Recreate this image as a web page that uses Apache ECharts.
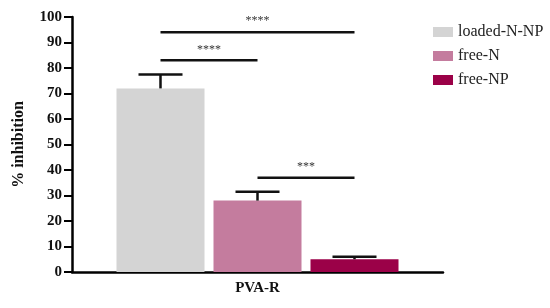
<!DOCTYPE html>
<html>
<head>
<meta charset="utf-8">
<script src="https://cdn.jsdelivr.net/npm/echarts@6/dist/echarts.min.js"></script>
<style>
  html, body { margin: 0; padding: 0; background: #fff; }
  #chart { width: 550px; height: 308px; }
</style>
</head>
<body>
<div id="chart"></div>
<script>
  // data
  var categories = ['PVA-R'];
  var groups = ['loaded-N-NP', 'free-N', 'free-NP'];
  var means = [72, 28, 5];
  var errors = [5.5, 3.5, 1];
  var colors = ['#d4d4d4', '#c47c9e', '#9b0148'];
  // significance brackets: [from group, to group, height, label]
  var brackets = [
    [0, 2, 94, '****'],
    [0, 1, 83, '****'],
    [1, 2, 37, '***']
  ];
  var yTicks = { min: 0, max: 100, interval: 10 };

  var BAR_W = 88;
  var BAR_GAP = 9;
  var FONT = 'Liberation Serif';

  function groupOffset(g) {
    return (g - 1) * (BAR_W + BAR_GAP);
  }

  var barSeries = groups.map(function (name, i) {
    return {
      name: name,
      type: 'bar',
      barWidth: BAR_W,
      barGap: (BAR_GAP / BAR_W * 100) + '%',
      itemStyle: { color: colors[i] },
      data: [means[i]],
      z: 2
    };
  });

  var errData = means.map(function (m, i) { return [0, m, m + errors[i], i]; });

  var errSeries = {
    type: 'custom',
    name: 'err',
    data: errData,
    encode: { x: 0, y: 1 },
    z: 3,
    renderItem: function (params, api) {
      var g = api.value(3);
      var base = api.coord([0, api.value(1)]);
      var top = api.coord([0, api.value(2)]);
      var x = base[0] + groupOffset(g);
      var style = { stroke: '#111', lineWidth: 2.5 };
      return {
        type: 'group',
        children: [
          { type: 'line', shape: { x1: x, y1: base[1], x2: x, y2: top[1] }, style: style },
          { type: 'line', shape: { x1: x - 22, y1: top[1], x2: x + 22, y2: top[1] }, style: style }
        ]
      };
    }
  };

  var brData = brackets.map(function (b) { return [0, b[2], b[0], b[1]]; });

  var brSeries = {
    type: 'custom',
    name: 'sig',
    data: brData,
    encode: { x: 0, y: 1 },
    z: 3,
    renderItem: function (params, api) {
      var p = api.coord([0, api.value(1)]);
      var x1 = p[0] + groupOffset(api.value(2));
      var x2 = p[0] + groupOffset(api.value(3));
      return {
        type: 'group',
        children: [
          { type: 'line', shape: { x1: x1, y1: p[1], x2: x2, y2: p[1] },
            style: { stroke: '#111', lineWidth: 2.5 } },
          { type: 'text', x: (x1 + x2) / 2, y: p[1] - 11,
            style: { text: brackets[params.dataIndex][3], fill: '#333',
              font: '12px ' + FONT, align: 'center', verticalAlign: 'middle' } }
        ]
      };
    }
  };

  var chart = echarts.init(document.getElementById('chart'));
  chart.setOption({
    animation: false,
    backgroundColor: '#fff',
    grid: { left: 72, right: 107, top: 17, bottom: 36, outerBoundsMode: 'none' },
    legend: {
      data: groups,
      orient: 'vertical',
      left: 428,
      top: 19,
      itemWidth: 20,
      itemHeight: 10,
      itemGap: 8,
      icon: 'rect',
      textStyle: { fontFamily: FONT, fontSize: 16, color: '#222' }
    },
    xAxis: {
      type: 'category',
      data: categories,
      axisLine: { lineStyle: { color: '#000', width: 2.5 } },
      axisTick: { alignWithLabel: true, length: 6, lineStyle: { color: '#000', width: 2.5 } },
      axisLabel: { fontFamily: FONT, fontWeight: 'bold', fontSize: 15, color: '#111', margin: 9 }
    },
    yAxis: {
      type: 'value',
      min: yTicks.min,
      max: yTicks.max,
      interval: yTicks.interval,
      name: '% inhibition',
      nameLocation: 'middle',
      nameGap: 45,
      nameTextStyle: { fontFamily: FONT, fontWeight: 'bold', fontSize: 16, color: '#111' },
      splitLine: { show: false },
      axisLine: { show: true, lineStyle: { color: '#000', width: 2.5 } },
      axisTick: { show: true, length: 8, lineStyle: { color: '#000', width: 2 } },
      axisLabel: { fontFamily: FONT, fontWeight: 'bold', fontSize: 15, color: '#111', margin: 10 }
    },
    series: barSeries.concat([errSeries, brSeries])
  });
</script>
</body>
</html>
